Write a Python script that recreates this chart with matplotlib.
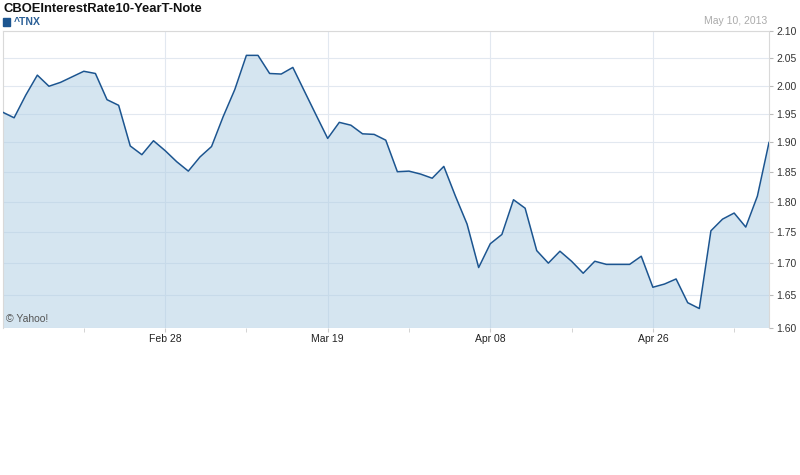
import numpy as np
import matplotlib.pyplot as plt
from matplotlib.patches import Rectangle

plt.rcParams['font.family'] = ['Liberation Sans', 'DejaVu Sans']

# daily close of ^TNX, one value per trading day, ending May 10, 2013
tnx = [1.953, 1.943, 1.983, 2.019, 1.999, 2.006, 2.016, 2.026, 2.022, 1.975,
       1.965, 1.894, 1.879, 1.903, 1.886, 1.867, 1.851, 1.875, 1.893, 1.945,
       1.993, 2.055, 2.055, 2.022, 2.021, 2.033, 1.990, 1.948, 1.907, 1.935,
       1.930, 1.915, 1.914, 1.904, 1.850, 1.851, 1.846, 1.839, 1.859, 1.809,
       1.763, 1.693, 1.731, 1.746, 1.803, 1.789, 1.720, 1.700, 1.719, 1.703,
       1.684, 1.703, 1.698, 1.698, 1.698, 1.711, 1.662, 1.667, 1.675, 1.638,
       1.629, 1.752, 1.771, 1.781, 1.758, 1.809, 1.900]

date_idx = [14, 28, 42, 56]
date_labels = ["Feb 28", "Mar 19", "Apr 08", "Apr 26"]
minor_idx = [7, 21, 35, 49, 63]
y_ticks = [1.60, 1.65, 1.70, 1.75, 1.80, 1.85, 1.90, 1.95, 2.00, 2.05, 2.10]

W, H = 800, 475
fig = plt.figure(figsize=(8, 4.75), dpi=100)
ax = fig.add_axes([2.5 / W, 1 - 327.5 / H, 766.5 / W, 296.5 / H])


def fwd(v):
    return np.sign(v) * np.abs(v) ** 0.25


def inv(u):
    return np.sign(u) * np.abs(u) ** 4


ax.set_yscale('function', functions=(fwd, inv))

x = np.arange(len(tnx))
ax.fill_between(x, tnx, 1.60, color='#adcde3', alpha=0.5, lw=0, zorder=2)
ax.plot(x, tnx, color='#1c5590', lw=1.1, zorder=3)

ax.set_xlim(0, len(tnx) - 1)
ax.set_ylim(1.60, 2.10)

ax.set_axisbelow(True)
ax.set_yticks(y_ticks)
ax.set_yticklabels([f"{v:.2f}" for v in y_ticks])
ax.yaxis.set_minor_locator(plt.NullLocator())
ax.yaxis.tick_right()
ax.set_xticks(date_idx)
ax.set_xticklabels(date_labels)
ax.set_xticks(minor_idx, minor=True)

ax.grid(axis='y', color='#e2e8f0', lw=0.8)
ax.grid(axis='x', which='major', color='#e2e8f0', lw=0.8)

ax.tick_params(axis='y', direction='out', length=3, color='#bbbbbb',
               labelsize=7.5, labelcolor='#333333', pad=2)
ax.tick_params(axis='x', which='both', direction='out', length=3,
               color='#cccccc', labelsize=7.5, labelcolor='#222222', pad=1.5)

for side in ['top', 'left', 'right']:
    ax.spines[side].set_color('#d9d9d9')
    ax.spines[side].set_linewidth(0.8)
ax.spines['bottom'].set_visible(False)

# header
fig.text(3 / W, 1 - 12 / H, "CBOEInterestRate10-YearT-Note", fontsize=9.4,
         fontweight='bold', color='#111111', va='baseline', ha='left')
fig.patches.append(Rectangle((2.7 / W, 1 - 25.7 / H), 7.3 / W, 7.4 / H,
                             transform=fig.transFigure, color='#1c5590'))
fig.text(13.3 / W, 1 - 25.3 / H, "^TNX", fontsize=7.5, fontweight='bold',
         color='#2a5f96', va='baseline', ha='left')
fig.text(767 / W, 1 - 23.5 / H, "May 10, 2013", fontsize=7.5,
         color='#aaaaaa', va='baseline', ha='right')
fig.text(6.5 / W, 1 - 319 / H, "\u00a9 Yahoo!", fontsize=7.5,
         color='#555555', va='center', ha='left')

fig.savefig("out.png", dpi=100)
